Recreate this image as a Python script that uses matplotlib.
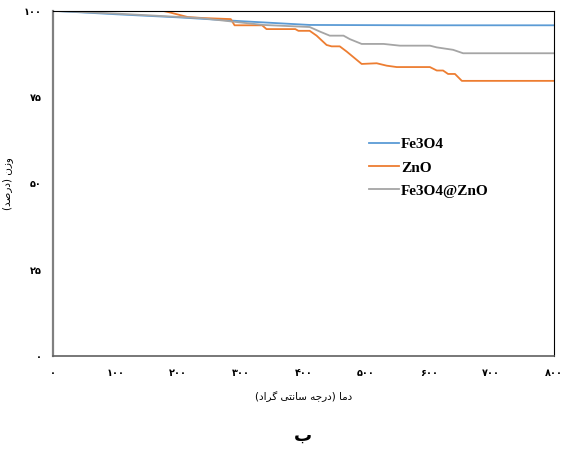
import numpy as np
import matplotlib
matplotlib.use('agg')
import matplotlib.pyplot as plt

# TGA curves (temperature in C, weight in %)
t_fe3o4 = [0, 100, 200, 300, 410, 500, 600, 700, 800]
w_fe3o4 = [100, 99.0, 98.1, 97.0, 95.9, 95.85, 95.8, 95.8, 95.8]

t_zno = [0, 100, 170, 185, 215, 240, 284, 290, 334, 341, 387, 392, 410, 421, 437,
         445, 458, 469, 485, 493, 517, 533, 549, 602, 613, 623, 631, 642, 653, 800]
w_zno = [100, 100, 100.2, 99.6, 98.2, 97.9, 97.6, 95.8, 95.8, 94.7, 94.7, 94.2, 94.2, 92.8, 90.1,
         89.7, 89.7, 88.2, 85.8, 84.6, 84.8, 84.1, 83.7, 83.7, 82.7, 82.7, 81.7, 81.7, 79.7, 79.7]

t_comp = [0, 100, 235, 336, 410, 426, 442, 464, 474, 493, 528, 554, 602, 613, 639, 655, 800]
w_comp = [100, 99.2, 97.9, 95.9, 95.3, 94.0, 92.8, 92.8, 91.8, 90.4, 90.4, 89.9, 89.9, 89.4, 88.7, 87.7, 87.7]

x_ticks = [0, 100, 200, 300, 400, 500, 600, 700, 800]
y_ticks = [0, 25, 50, 75, 100]

# simple Persian shaping (matplotlib has no RTL layout)
FORMS = {
    'ا': ('\ufe8d', '\ufe8e', None, None),
    'ب': ('\ufe8f', '\ufe90', '\ufe91', '\ufe92'),
    'ت': ('\ufe95', '\ufe96', '\ufe97', '\ufe98'),
    'ج': ('\ufe9d', '\ufe9e', '\ufe9f', '\ufea0'),
    'د': ('\ufea9', '\ufeaa', None, None),
    'ر': ('\ufead', '\ufeae', None, None),
    'ز': ('\ufeaf', '\ufeb0', None, None),
    'س': ('\ufeb1', '\ufeb2', '\ufeb3', '\ufeb4'),
    'ص': ('\ufeb9', '\ufeba', '\ufebb', '\ufebc'),
    'م': ('\ufee1', '\ufee2', '\ufee3', '\ufee4'),
    'ن': ('\ufee5', '\ufee6', '\ufee7', '\ufee8'),
    'ه': ('\ufee9', '\ufeea', '\ufeeb', '\ufeec'),
    'و': ('\ufeed', '\ufeee', None, None),
    'ی': ('\ufbfc', '\ufbfd', '\ufbfe', '\ufbff'),
    'گ': ('\ufb92', '\ufb93', '\ufb94', '\ufb95'),
}


def fa(text):
    out = []
    for i, c in enumerate(text):
        if c not in FORMS:
            out.append(c)
            continue
        iso, fin, ini, med = FORMS[c]
        prev = text[i - 1] if i > 0 else ''
        nxt = text[i + 1] if i + 1 < len(text) else ''
        jp = prev in FORMS and FORMS[prev][2] is not None
        jn = ini is not None and nxt in FORMS
        if jp and jn:
            out.append(med)
        elif jp:
            out.append(fin)
        elif jn:
            out.append(ini)
        else:
            out.append(iso)
    s = ''.join(out)[::-1]
    return s.translate(str.maketrans('()', ')('))


def fa_num(n):
    return str(n).translate(str.maketrans('0123456789', '۰۱۲۳۴۵۶۷۸۹'))


fig = plt.figure(figsize=(5.66, 4.5), dpi=100)
ax = fig.add_axes([0.0936, 0.209, 0.885, 0.767])

ax.plot(t_fe3o4, w_fe3o4, color='#5B9BD5', lw=1.3, label='Fe3O4')
ax.plot(t_zno, w_zno, color='#ED7D31', lw=1.3, label='ZnO')
ax.plot(t_comp, w_comp, color='#A5A5A5', lw=1.3, label='Fe3O4@ZnO')

ax.set_xlim(0, 800)
ax.set_ylim(0, 100)
ax.set_xticks(x_ticks)
ax.set_xticklabels([fa_num(v) for v in x_ticks])
ax.set_yticks(y_ticks)
ax.set_yticklabels([fa_num(v) for v in y_ticks])
ax.tick_params(axis='x', length=0, labelsize=7, pad=9)
ax.tick_params(axis='y', length=0, labelsize=7, pad=8)
for lab in ax.get_xticklabels() + ax.get_yticklabels():
    lab.set_fontweight('bold')

ax.spines['left'].set_color('#808080')
ax.spines['left'].set_linewidth(1.6)
ax.spines['bottom'].set_color('#606060')
ax.spines['bottom'].set_linewidth(1.2)
ax.spines['top'].set_color('black')
ax.spines['right'].set_color('black')

ax.set_xlabel(fa('دما (درجه سانتی گراد)'), fontsize=7.5, labelpad=9)
ax.set_ylabel(fa('وزن (درصد)'), fontsize=7.5, labelpad=8)

ax.legend(loc='upper left', bbox_to_anchor=(0.603, 0.672), frameon=False,
          handlelength=2.0, handletextpad=0.1, labelspacing=0.62,
          prop={'family': 'Liberation Serif', 'weight': 'bold', 'size': 11})

fig.text(0.535, 0.012, fa('ب'), ha='center', va='bottom', fontsize=13, fontweight='bold')

fig.savefig('out.png', dpi=100)
